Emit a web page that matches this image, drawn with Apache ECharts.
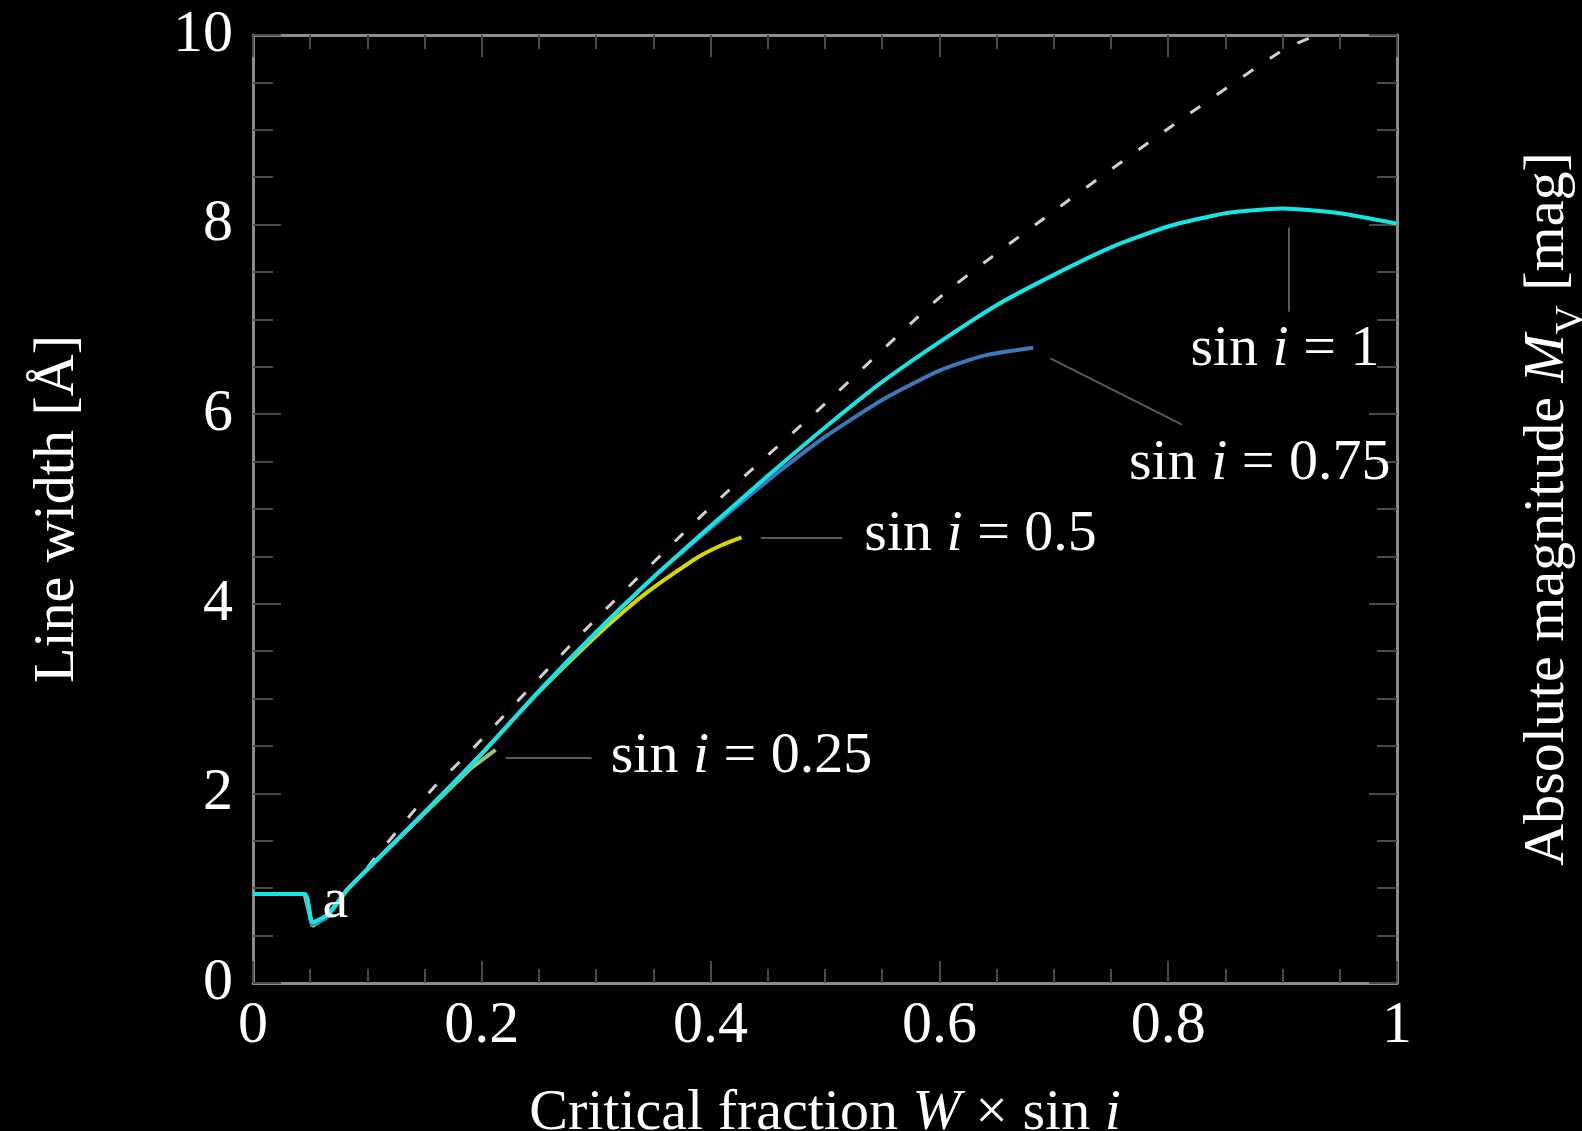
<!DOCTYPE html>
<html>
<head>
<meta charset="utf-8">
<script src="https://cdn.jsdelivr.net/npm/echarts@6/dist/echarts.min.js"></script>
<style>
html, body { margin: 0; padding: 0; background: #000; }
#chart { width: 1582px; height: 1131px; }
</style>
</head>
<body>
<div id="chart"></div>
<script>
// critical fraction W x sin i  /  line width [A]
// sin i = 1
var w100 = [0, 0.045, 0.052, 0.065, 0.082, 0.1, 0.15, 0.2, 0.25, 0.3, 0.35, 0.4, 0.45, 0.5, 0.55, 0.6, 0.65, 0.7, 0.75, 0.8, 0.85, 0.9, 0.95, 1.0];
var lw100 = [0.94, 0.94, 0.64, 0.72, 0.98, 1.2, 1.8, 2.42, 3.08, 3.70, 4.28, 4.82, 5.35, 5.86, 6.34, 6.76, 7.15, 7.47, 7.76, 7.98, 8.12, 8.17, 8.12, 8.01];
// sin i = 0.75
var w075 = [0, 0.045, 0.052, 0.065, 0.082, 0.1, 0.15, 0.2, 0.25, 0.3, 0.35, 0.4, 0.45, 0.5, 0.55, 0.6, 0.64, 0.682];
var lw075 = [0.94, 0.94, 0.62, 0.70, 0.98, 1.2, 1.8, 2.42, 3.08, 3.70, 4.28, 4.80, 5.30, 5.76, 6.15, 6.46, 6.62, 6.70];
// sin i = 0.5
var w050 = [0, 0.045, 0.052, 0.065, 0.082, 0.1, 0.15, 0.2, 0.25, 0.3, 0.33, 0.35, 0.37, 0.39, 0.41, 0.427];
var lw050 = [0.94, 0.94, 0.62, 0.70, 0.98, 1.2, 1.8, 2.42, 3.07, 3.66, 3.98, 4.17, 4.34, 4.50, 4.62, 4.70];
// sin i = 0.25
var w025 = [0, 0.045, 0.052, 0.065, 0.082, 0.1, 0.15, 0.19, 0.212];
var lw025 = [0.94, 0.94, 0.60, 0.70, 0.98, 1.2, 1.79, 2.26, 2.46];
// dashed reference line
var wLin = [0.1, 0.157, 0.188, 0.29, 0.4, 0.5, 0.603, 0.702, 0.802, 0.9, 0.93];
var lwLin = [1.22, 2.05, 2.42, 3.72, 5.02, 6.11, 7.26, 8.16, 9.03, 9.84, 10.0];

// annotations: text, position, connector line
var noteText = ['sin {it|i} = 1', 'sin {it|i} = 0.75', 'sin {it|i} = 0.5', 'sin {it|i} = 0.25', 'a'];
var notePos = [[0.902, 6.68], [0.880, 5.48], [0.636, 4.73], [0.427, 2.39], [0.072, 0.86]];
var connectors = [
    [[0.905, 7.97], [0.905, 7.08]],
    [[0.697, 6.59], [0.812, 5.89]],
    [[0.444, 4.70], [0.515, 4.70]],
    [[0.221, 2.38], [0.296, 2.38]]
];

function zip(xs, ys) {
    return xs.map(function (x, i) { return [x, ys[i]]; });
}

var serif = "'Liberation Serif', 'DejaVu Serif', serif";
var textColor = '#ffffff';
var rich = {
    it: { fontStyle: 'italic', fontFamily: serif, fontSize: 58, color: textColor, textBorderWidth: 0 },
    sub: { fontFamily: serif, fontSize: 40, color: textColor, textBorderWidth: 0, verticalAlign: 'bottom', padding: [0, 0, -14, 0] }
};

function frameAxis(extra) {
    var base = {
        axisLine: { show: true, onZero: false, lineStyle: { color: '#8c8c8c', width: 3 } },
        axisTick: { show: true, inside: true, length: 22, lineStyle: { color: '#4a4a4a', width: 2 } },
        minorTick: { show: true, splitNumber: 4, length: 14, lineStyle: { color: '#4a4a4a', width: 2 } },
        splitLine: { show: false },
        minorSplitLine: { show: false }
    };
    return Object.assign(base, extra);
}

var chart = echarts.init(document.getElementById('chart'));

var option = {
    backgroundColor: '#000',
    animation: false,
    grid: { left: 253, right: 185, top: 35, bottom: 148, containLabel: false, outerBoundsMode: 'none' },
    xAxis: [
        frameAxis({
            type: 'value', min: 0, max: 1, interval: 0.2, position: 'bottom',
            name: 'Critical fraction {it|W} × sin {it|i}',
            nameLocation: 'middle', nameGap: 102,
            nameTextStyle: { fontFamily: serif, fontSize: 58, color: textColor, rich: rich },
            axisLabel: { margin: 13, fontFamily: serif, fontSize: 60, color: textColor }
        }),
        frameAxis({
            type: 'value', min: 0, max: 1, interval: 0.2, position: 'top',
            axisLabel: { show: false }
        })
    ],
    yAxis: [
        frameAxis({
            type: 'value', min: 0, max: 10, interval: 2, position: 'left',
            name: 'Line width [Å]',
            nameLocation: 'middle', nameGap: 166, nameRotate: 90,
            nameTextStyle: { fontFamily: serif, fontSize: 58, color: textColor },
            axisTick: { show: true, inside: true, length: 28, lineStyle: { color: '#4a4a4a', width: 2 } },
            minorTick: { show: true, splitNumber: 4, length: 20, lineStyle: { color: '#4a4a4a', width: 2 } },
            axisLabel: { margin: 20, fontFamily: serif, fontSize: 60, color: textColor }
        }),
        frameAxis({
            type: 'value', min: 0, max: 10, interval: 2, position: 'right',
            name: 'Absolute magnitude {it|M}{sub|V} [mag]',
            nameLocation: 'middle', nameGap: 122, nameRotate: 90,
            nameTextStyle: { fontFamily: serif, fontSize: 58, color: textColor, rich: rich },
            axisTick: { show: true, inside: true, length: 28, lineStyle: { color: '#4a4a4a', width: 2 } },
            minorTick: { show: true, splitNumber: 4, length: 20, lineStyle: { color: '#4a4a4a', width: 2 } },
            axisLabel: { show: false }
        })
    ],
    series: [
        {
            name: 'linear', type: 'line', data: zip(wLin, lwLin),
            showSymbol: false, silent: true, smooth: 0.2,
            lineStyle: { color: '#d0d0d0', width: 3, type: [12, 20] }
        },
        {
            name: 'sin i = 0.25', type: 'line', data: zip(w025, lw025),
            showSymbol: false, silent: true,
            lineStyle: { color: '#9cc27a', width: 4 }
        },
        {
            name: 'sin i = 0.5', type: 'line', data: zip(w050, lw050),
            showSymbol: false, silent: true, smooth: 0.2,
            lineStyle: { color: '#d6d600', width: 4 }
        },
        {
            name: 'sin i = 0.75', type: 'line', data: zip(w075, lw075),
            showSymbol: false, silent: true, smooth: 0.2,
            lineStyle: { color: '#3b78b8', width: 4 }
        },
        {
            name: 'sin i = 1', type: 'line', data: zip(w100, lw100),
            showSymbol: false, silent: true, smooth: 0.2,
            lineStyle: { color: '#14e6e6', width: 4 }
        },
        {
            name: 'notes', type: 'scatter', silent: true, z: 5,
            symbolSize: 1, itemStyle: { color: 'transparent', opacity: 1 },
            data: notePos.map(function (p, i) { return { name: noteText[i], value: p }; }),
            label: {
                show: true, position: 'inside', formatter: '{b}',
                align: 'center', verticalAlign: 'middle',
                fontFamily: serif, fontSize: 58, color: textColor,
                textBorderWidth: 0, textBorderColor: 'transparent',
                rich: rich
            },
            markLine: {
                silent: true, symbol: 'none', label: { show: false },
                lineStyle: { color: '#5a5a5a', width: 2, type: 'solid' },
                data: connectors.map(function (c) {
                    return [{ coord: c[0] }, { coord: c[1] }];
                })
            }
        }
    ]
};

chart.setOption(option);
window.addEventListener('resize', function () {
    chart.resize();
});
</script>
</body>
</html>
